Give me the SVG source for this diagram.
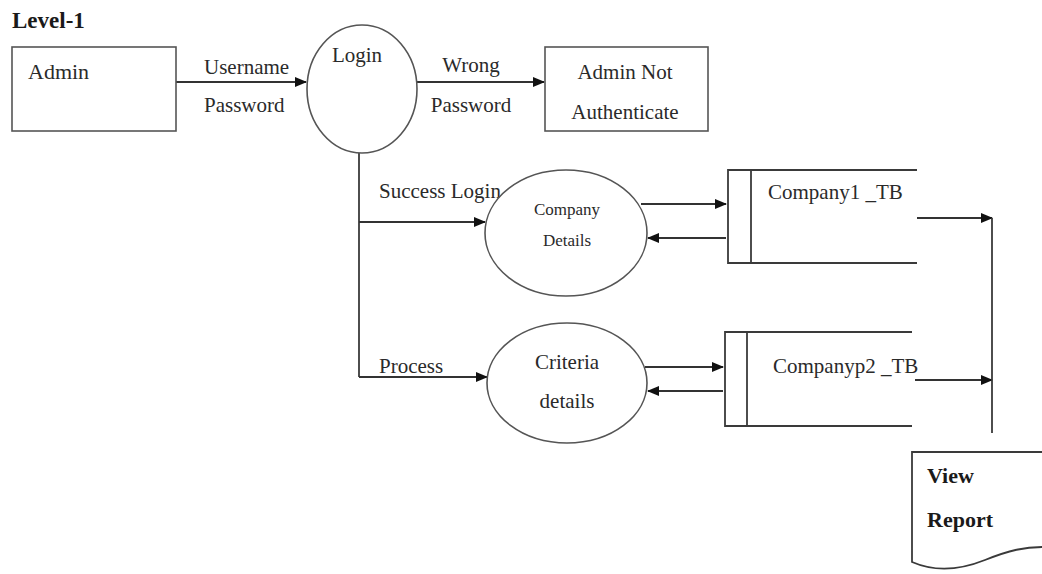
<svg xmlns="http://www.w3.org/2000/svg" width="1042" height="574" viewBox="0 0 1042 574">
<style>
  text { font-family: "Liberation Serif", "Times New Roman", serif; font-size: 21px; fill: #2a2a2a; }
  .b { font-weight: bold; fill: #1a1a1a; }
  .s { font-size: 17px; }
  .c { text-anchor: middle; }
  .shape { fill: #fff; stroke: #555; stroke-width: 1.6; }
  .ln { fill: none; stroke: #3a3a3a; stroke-width: 1.8; }
  .arr { fill: none; stroke: #333; stroke-width: 2; marker-end: url(#ah); }
</style>
<defs>
  <marker id="ah" markerWidth="12" markerHeight="10" refX="11" refY="5" orient="auto" markerUnits="userSpaceOnUse">
    <path d="M0,0 L12,5 L0,10 Z" fill="#111"/>
  </marker>
</defs>
<rect width="1042" height="574" fill="#fff"/>
<text x="12" y="28" class="b" style="font-size:23px">Level-1</text>

<g id="connectors">
  <line class="arr" x1="176" y1="82" x2="306" y2="82"/>
  <line class="arr" x1="417" y1="82" x2="544" y2="82"/>
  <polyline class="ln" points="359,153 359,377"/>
  <line class="arr" x1="359" y1="222" x2="485" y2="222"/>
  <line class="arr" x1="359" y1="377" x2="487" y2="377"/>
  <line class="arr" x1="641" y1="204" x2="726" y2="204"/>
  <line class="arr" x1="726" y1="238" x2="648" y2="238"/>
  <line class="arr" x1="645" y1="367" x2="723" y2="367"/>
  <line class="arr" x1="723" y1="391" x2="648" y2="391"/>
  <line class="arr" x1="917" y1="218" x2="992" y2="218"/>
  <line class="arr" x1="915" y1="380" x2="992" y2="380"/>
  <line class="ln" x1="992" y1="218" x2="992" y2="433"/>
  <text x="204" y="74">Username</text>
  <text x="204" y="112">Password</text>
  <text x="471" y="72" class="c">Wrong</text>
  <text x="471" y="112" class="c">Password</text>
  <text x="379" y="198">Success Login</text>
  <text x="379" y="373">Process</text>
</g>

<g id="admin">
  <rect class="shape" x="12" y="47" width="164" height="84"/>
  <text x="28" y="79" style="font-size:22px">Admin</text>
</g>

<g id="login">
  <ellipse class="shape" cx="362" cy="89" rx="55" ry="64"/>
  <text x="357" y="62" class="c">Login</text>
</g>

<g id="admin-not-auth">
  <rect class="shape" x="545" y="47" width="163" height="84"/>
  <text x="625" y="79" class="c">Admin Not</text>
  <text x="625" y="119" class="c">Authenticate</text>
</g>

<g id="company-details">
  <ellipse class="shape" cx="566" cy="233" rx="81" ry="63"/>
  <text x="567" y="215" class="c s">Company</text>
  <text x="567" y="246" class="c s">Details</text>
</g>

<g id="criteria-details">
  <ellipse class="shape" cx="567" cy="383" rx="80" ry="60"/>
  <text x="567" y="369" class="c">Criteria</text>
  <text x="567" y="408" class="c">details</text>
</g>

<g id="company1-tb">
  <polyline class="ln" points="917,170 728,170 728,263 917,263"/>
  <line class="ln" x1="751" y1="170" x2="751" y2="263"/>
  <text x="768" y="199">Company1 _TB</text>
</g>

<g id="companyp2-tb">
  <polyline class="ln" points="912,332 725,332 725,426 912,426"/>
  <line class="ln" x1="747" y1="332" x2="747" y2="426"/>
  <text x="773" y="373">Companyp2 _TB</text>
</g>

<g id="view-report">
  <path class="ln" d="M1042,452 L912,452 L912,562 C935,572 960,570 985,560 S1025,547 1042,547"/>
  <text x="927" y="483" class="b" style="font-size:22px">View</text>
  <text x="927" y="527" class="b" style="font-size:22px">Report</text>
</g>
</svg>
